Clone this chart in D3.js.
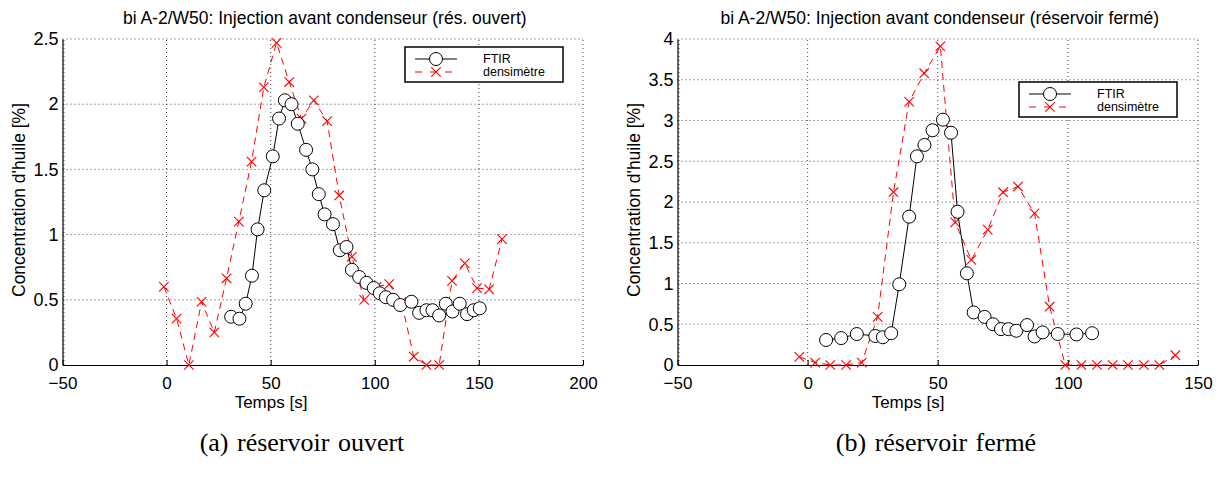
<!DOCTYPE html>
<html>
<head>
<meta charset="utf-8">
<script src="https://cdn.jsdelivr.net/npm/d3@7"></script>
<style>
  html, body { margin: 0; padding: 0; background: #fff; }
  svg { display: block; }
  text { font-family: "Liberation Sans", Arial, Helvetica, sans-serif; fill: #000; }
  text.caption { font-family: "Liberation Serif", "Times New Roman", serif; }
</style>
</head>
<body>
<svg id="fig" width="1221" height="485"></svg>
<script>
// ---- Panel (a): réservoir ouvert ----
const ftirA_t = [31, 35, 38, 41, 43.7, 46.9, 51, 54, 56.8, 60, 63, 67, 70, 73.1, 75.9, 79.9, 83.2, 86.4, 89, 92.5, 96, 99.5, 102.4, 105.3, 108.8, 112.2, 117.6, 121.3, 124.8, 127.7, 130.9, 134.1, 137.3, 140.8, 144.3, 147.5, 150.4];
const ftirA_v = [0.37, 0.355, 0.47, 0.685, 1.04, 1.34, 1.60, 1.89, 2.03, 2.00, 1.85, 1.65, 1.50, 1.31, 1.155, 1.08, 0.88, 0.905, 0.73, 0.675, 0.63, 0.59, 0.55, 0.52, 0.50, 0.46, 0.485, 0.40, 0.42, 0.42, 0.38, 0.47, 0.41, 0.47, 0.39, 0.42, 0.435];
const densA_t = [-1.3, 4.8, 10.7, 16.8, 22.9, 28.8, 34.7, 40.8, 46.7, 52.8, 58.9, 64.8, 70.7, 77.1, 82.9, 89, 94.9, 100.8, 106.9, 112.8, 118.7, 124.8, 130.9, 137.1, 143.2, 149.1, 154.9, 161.1];
const densA_v = [0.60, 0.355, 0, 0.485, 0.25, 0.665, 1.10, 1.56, 2.13, 2.47, 2.17, 1.89, 2.03, 1.87, 1.30, 0.83, 0.50, 0.60, 0.62, 0.485, 0.065, 0, 0, 0.645, 0.78, 0.59, 0.58, 0.965];
const xTicksA = [-50, 0, 50, 100, 150, 200];
const yTicksA = [0, 0.5, 1, 1.5, 2, 2.5];

// ---- Panel (b): réservoir fermé ----
const ftirB_t = [7.1, 12.9, 18.9, 26, 28.9, 32.1, 35.2, 39, 42, 44.9, 48, 52, 55.1, 57.6, 61.2, 63.8, 68, 71.2, 74.3, 77.2, 80.2, 84.3, 87.2, 90.3, 96.1, 103.3, 109.3];
const ftirB_v = [0.307, 0.33, 0.38, 0.356, 0.34, 0.39, 0.99, 1.82, 2.56, 2.70, 2.88, 3.01, 2.85, 1.88, 1.125, 0.645, 0.59, 0.50, 0.44, 0.44, 0.42, 0.49, 0.35, 0.40, 0.38, 0.375, 0.39];
const densB_t = [-3.2, 2.9, 8.7, 14.8, 20.8, 26.9, 33, 39, 44.8, 51, 56.7, 62.9, 69.2, 75.1, 80.8, 87.2, 93, 99, 105.2, 111.2, 117.2, 123.1, 129.2, 135.2, 141.3];
const densB_v = [0.10, 0.03, 0, 0, 0.03, 0.59, 2.12, 3.23, 3.58, 3.91, 1.75, 1.29, 1.66, 2.12, 2.19, 1.86, 0.715, 0, 0, 0, 0, 0, 0, 0, 0.12];
const xTicksB = [-50, 0, 50, 100, 150];
const yTicksB = [0, 0.5, 1, 1.5, 2, 2.5, 3, 3.5, 4];

const seriesNames = ["FTIR", "densimètre"];
const yLabel = "Concentration d'huile [%]";
const xLabel = "Temps [s]";

const svg = d3.select("#fig");

function zip(ts, vs) { return ts.map((t, i) => ({ t, v: vs[i] })); }

function panel(cfg) {
  const x = d3.scaleLinear().domain(cfg.xDomain).range(cfg.xRange);
  const y = d3.scaleLinear().domain(cfg.yDomain).range([365, 39]);
  const g = svg.append("g");

  // dotted grid
  const grid = g.append("g")
    .attr("stroke", "#444").attr("stroke-width", 1).attr("stroke-dasharray", "1,3").attr("fill", "none");
  cfg.xTicks.forEach(t => {
    const px = t === cfg.xDomain[0] ? x(t) + 1.5 : x(t);
    grid.append("line").attr("x1", px).attr("x2", px).attr("y1", y.range()[0]).attr("y2", y.range()[1]);
  });
  cfg.yTicks.filter(t => t !== 0).forEach(t => {
    grid.append("line").attr("x1", x.range()[0]).attr("x2", x.range()[1]).attr("y1", y(t)).attr("y2", y(t));
  });

  // axes
  const xAxis = d3.axisBottom(x).tickValues(cfg.xTicks).tickSizeInner(-5).tickSizeOuter(0).tickPadding(10).tickFormat(d3.format("d"));
  const gx = g.append("g").attr("transform", `translate(0,${y(0)})`).call(xAxis);
  gx.select(".domain").attr("stroke", "#000").attr("stroke-width", 1.2);
  gx.selectAll(".tick line").attr("stroke", "#000");
  gx.selectAll(".tick text").attr("font-size", 17).attr("font-family", "Liberation Sans, Arial, sans-serif").attr("dy", "0.85em");

  const yAxis = d3.axisLeft(y).tickValues(cfg.yTicks).tickSizeInner(0).tickSizeOuter(0).tickPadding(4).tickFormat(d3.format("~g"));
  const gy = g.append("g").attr("transform", `translate(${x.range()[0]},0)`).call(yAxis);
  gy.select(".domain").attr("stroke", "#000").attr("stroke-width", 1.2);
  gy.selectAll(".tick text").attr("font-size", 18).attr("font-family", "Liberation Sans, Arial, sans-serif");

  // labels
  g.append("text").attr("x", d3.mean(x.range()) + 2).attr("y", 24).attr("text-anchor", "middle")
    .attr("font-size", 17.5).text(cfg.title);
  g.append("text").attr("x", cfg.xLabelX).attr("y", 408).attr("text-anchor", "middle")
    .attr("font-size", 17).text(xLabel);
  g.append("text").attr("transform", `translate(${cfg.yLabelX},200) rotate(-90)`).attr("text-anchor", "middle")
    .attr("font-size", 17.5).text(yLabel);
  g.append("text").attr("class", "caption").attr("x", cfg.captionX).attr("y", 451).attr("text-anchor", "middle")
    .attr("font-size", 26).attr("word-spacing", 2).text(cfg.caption);

  // densimètre: red dashed line with x markers
  const dens = zip(cfg.densT, cfg.densV);
  const line = d3.line().x(d => x(d.t)).y(d => y(d.v));
  g.append("path").datum(dens).attr("d", line).attr("fill", "none")
    .attr("stroke", "#ff0000").attr("stroke-width", 1).attr("stroke-dasharray", "7,5");
  const cross = d3.symbol().type(d3.symbolX).size(60);
  g.append("g").selectAll("path").data(dens).join("path")
    .attr("transform", d => `translate(${x(d.t)},${y(d.v)})`)
    .attr("d", cross).attr("fill", "none").attr("stroke", "#ff0000").attr("stroke-width", 1.1);

  // FTIR: black solid line with open circles
  const ftir = zip(cfg.ftirT, cfg.ftirV);
  g.append("path").datum(ftir).attr("d", line).attr("fill", "none")
    .attr("stroke", "#000").attr("stroke-width", 1);
  g.append("g").selectAll("circle").data(ftir).join("circle")
    .attr("cx", d => x(d.t)).attr("cy", d => y(d.v)).attr("r", 6.5)
    .attr("fill", "#fff").attr("stroke", "#000").attr("stroke-width", 1);

  // legend
  const L = cfg.legend;
  const lg = g.append("g").attr("transform", `translate(${L.x},${L.y})`);
  lg.append("rect").attr("width", 158).attr("height", 35).attr("fill", "#fff")
    .attr("stroke", "#000").attr("stroke-width", 1.5);
  lg.append("line").attr("x1", 10).attr("x2", 52).attr("y1", 12).attr("y2", 12).attr("stroke", "#000");
  lg.append("circle").attr("cx", 31).attr("cy", 12).attr("r", 6.5).attr("fill", "#fff").attr("stroke", "#000");
  lg.append("line").attr("x1", 10).attr("x2", 52).attr("y1", 25).attr("y2", 25)
    .attr("stroke", "#ff0000").attr("stroke-dasharray", "7,8").attr("stroke-dashoffset", 0);
  lg.append("path").attr("transform", "translate(31,25)").attr("d", cross).attr("fill", "none").attr("stroke", "#ff0000").attr("stroke-width", 1.1);
  lg.append("text").attr("x", 78).attr("y", 16).attr("font-size", 12.5).text(seriesNames[0]);
  lg.append("text").attr("x", 78).attr("y", 29).attr("font-size", 12.5).text(seriesNames[1]);
}

panel({
  xDomain: [-50, 200], xRange: [62.5, 583], yDomain: [0, 2.5],
  xTicks: xTicksA, yTicks: yTicksA,
  ftirT: ftirA_t, ftirV: ftirA_v, densT: densA_t, densV: densA_v,
  title: "bi A-2/W50: Injection avant condenseur (rés. ouvert)",
  caption: "(a)  réservoir ouvert",
  xLabelX: 271, yLabelX: 25, captionX: 302,
  legend: { x: 405, y: 47 }
});

panel({
  xDomain: [-50, 150], xRange: [677.5, 1198], yDomain: [0, 4],
  xTicks: xTicksB, yTicks: yTicksB,
  ftirT: ftirB_t, ftirV: ftirB_v, densT: densB_t, densV: densB_v,
  title: "bi A-2/W50: Injection avant condenseur (réservoir fermé)",
  caption: "(b)  réservoir fermé",
  xLabelX: 908, yLabelX: 640, captionX: 936,
  legend: { x: 1019, y: 82 }
});
</script>
</body>
</html>
